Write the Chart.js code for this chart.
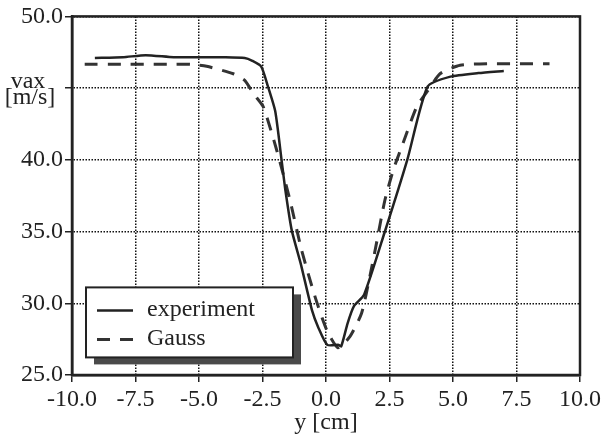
<!DOCTYPE html>
<html>
<head>
<meta charset="utf-8">
<script src="https://cdn.jsdelivr.net/npm/chart.js@4/dist/chart.umd.min.js"></script>
<style>
  html, body { margin: 0; padding: 0; background: #fff; }
  #wrap { width: 611px; height: 439px; }
</style>
</head>
<body>
<div id="wrap"><canvas id="chart1" width="611" height="439"></canvas></div>
<script>
// values
var expX = [-9.1, -8.0, -7.1, -6.0, -5.0, -4.0, -3.2, -2.9, -2.55, -2.3, -2.0, -1.75, -1.6, -1.35, -1.0, -0.55, -0.3, 0.05, 0.5, 0.6, 0.85, 1.1, 1.5, 2.3, 3.2, 4.0, 4.9, 6.0, 7.0];
var expY = [47.1, 47.15, 47.3, 47.15, 47.15, 47.15, 47.1, 46.9, 46.5, 45.2, 43.4, 40.0, 37.9, 35.1, 32.8, 29.5, 28.3, 27.1, 27.1, 27.0, 28.6, 29.8, 30.6, 34.9, 40.0, 45.1, 45.8, 46.05, 46.2];

var gaussX = [-9.5, -8.0, -7.0, -6.0, -5.3, -4.7, -3.65, -3.2, -2.85, -2.47, -1.94, -1.42, -0.96, -0.43, 0.03, 0.47, 0.94, 1.4, 1.73, 2.0, 2.32, 2.65, 2.98, 3.57, 4.0, 4.49, 5.28, 6.5, 7.5, 8.8];
var gaussY = [46.66, 46.66, 46.66, 46.66, 46.66, 46.52, 46.0, 45.54, 44.6, 43.7, 40.67, 37.2, 33.7, 30.45, 28.13, 26.9, 27.67, 29.3, 31.9, 34.3, 37.2, 39.3, 40.9, 43.7, 44.8, 46.0, 46.6, 46.7, 46.7, 46.7];

var seriesNames = ['experiment', 'Gauss'];
var xTicks = [-10, -7.5, -5, -2.5, 0, 2.5, 5, 7.5, 10];
var xTickLabels = ['-10.0', '-7.5', '-5.0', '-2.5', '0.0', '2.5', '5.0', '7.5', '10.0'];
var yTicks = [25, 30, 35, 40, 45, 50];
var yTickLabels = ['25.0', '30.0', '35.0', '40.0', '', '50.0'];   // 45 carries the unit label instead
var yLabelLines = ['vax', '[m/s]'];
var xLabel = 'y [cm]';

var FONT = '"Liberation Serif", "DejaVu Serif", serif';
var INK = '#222';

function pairs(xs, ys) {
    return xs.map(function(x, i) { return { x: x, y: ys[i] }; });
}

// frame, y label and the boxed legend with its drop shadow
var decorations = {
    id: 'decorations',
    afterDraw: function(chart) {
        var ctx = chart.ctx;
        var a = chart.chartArea;
        ctx.save();
        ctx.strokeStyle = INK;
        ctx.lineWidth = 2.5;
        ctx.strokeRect(a.left, a.top, a.right - a.left, a.bottom - a.top);

        ctx.fillStyle = INK;
        ctx.font = '24px ' + FONT;
        ctx.textAlign = 'center';
        ctx.textBaseline = 'alphabetic';
        ctx.fillText(yLabelLines[0], 28, 88);
        ctx.fillText(yLabelLines[1], 30, 104);

        // legend
        var lx = a.left + 14, ly = a.top + 271, lw = 207, lh = 70;
        ctx.fillStyle = '#4a4a4a';
        ctx.fillRect(lx + 8, ly + 7, lw, lh);
        ctx.fillStyle = '#fff';
        ctx.fillRect(lx, ly, lw, lh);
        ctx.lineWidth = 2;
        ctx.strokeStyle = INK;
        ctx.strokeRect(lx, ly, lw, lh);

        chart.data.datasets.forEach(function(ds, i) {
            var yy = ly + 23 + i * 29;
            ctx.save();
            ctx.strokeStyle = ds.borderColor;
            ctx.lineWidth = ds.borderWidth;
            ctx.setLineDash(i === 0 ? [] : [13, 10]);
            ctx.beginPath();
            ctx.moveTo(lx + 11, yy);
            ctx.lineTo(lx + 47, yy);
            ctx.stroke();
            ctx.restore();
            ctx.fillStyle = INK;
            ctx.textAlign = 'left';
            ctx.fillText(ds.label, lx + 61, yy + 6);
        });
        ctx.restore();
    }
};

var gridStyle = {
    color: '#111',
    lineWidth: 1.5,
    tickLength: 7,
    tickColor: INK,
    tickWidth: 1.5,
    tickBorderDash: []
};

var ctx1 = document.getElementById('chart1').getContext('2d');
var chart1 = new Chart(ctx1, {
    type: 'line',
    data: {
        datasets: [
            {
                label: seriesNames[0],
                data: pairs(expX, expY),
                borderColor: INK,
                borderWidth: 2.5,
                pointRadius: 0,
                fill: false,
                tension: 0.2
            },
            {
                label: seriesNames[1],
                data: pairs(gaussX, gaussY),
                borderColor: '#333',
                borderWidth: 3,
                borderDash: [13, 10],
                pointRadius: 0,
                fill: false,
                tension: 0.2
            }
        ]
    },
    options: {
        responsive: false,
        animation: false,
        layout: { padding: { top: 16, right: 31, left: 0, bottom: 0 } },
        plugins: {
            legend: { display: false },
            tooltip: { enabled: false }
        },
        scales: {
            x: {
                type: 'linear',
                min: -10,
                max: 10,
                afterFit: function(s) { s.height = 64; },
                afterBuildTicks: function(s) { s.ticks = xTicks.map(function(v) { return { value: v }; }); },
                ticks: {
                    color: INK,
                    padding: 3,
                    maxRotation: 0,
                    font: { family: FONT, size: 24 },
                    callback: function(v, i) { return xTickLabels[i]; }
                },
                grid: gridStyle,
                border: { display: true, color: INK, width: 2.5, dash: [1.5, 1.5] },
                title: {
                    display: true,
                    text: xLabel,
                    color: INK,
                    font: { family: FONT, size: 24 },
                    padding: { top: 0, bottom: 2 }
                }
            },
            y: {
                min: 25,
                max: 50,
                afterFit: function(s) { s.width = 72; },
                afterBuildTicks: function(s) { s.ticks = yTicks.map(function(v) { return { value: v }; }); },
                ticks: {
                    color: INK,
                    padding: 2,
                    font: { family: FONT, size: 24 },
                    callback: function(v, i) { return yTickLabels[i]; }
                },
                grid: gridStyle,
                border: { display: true, color: INK, width: 2.5, dash: [1.5, 1.5] }
            }
        }
    },
    plugins: [decorations]
});
</script>
</body>
</html>
